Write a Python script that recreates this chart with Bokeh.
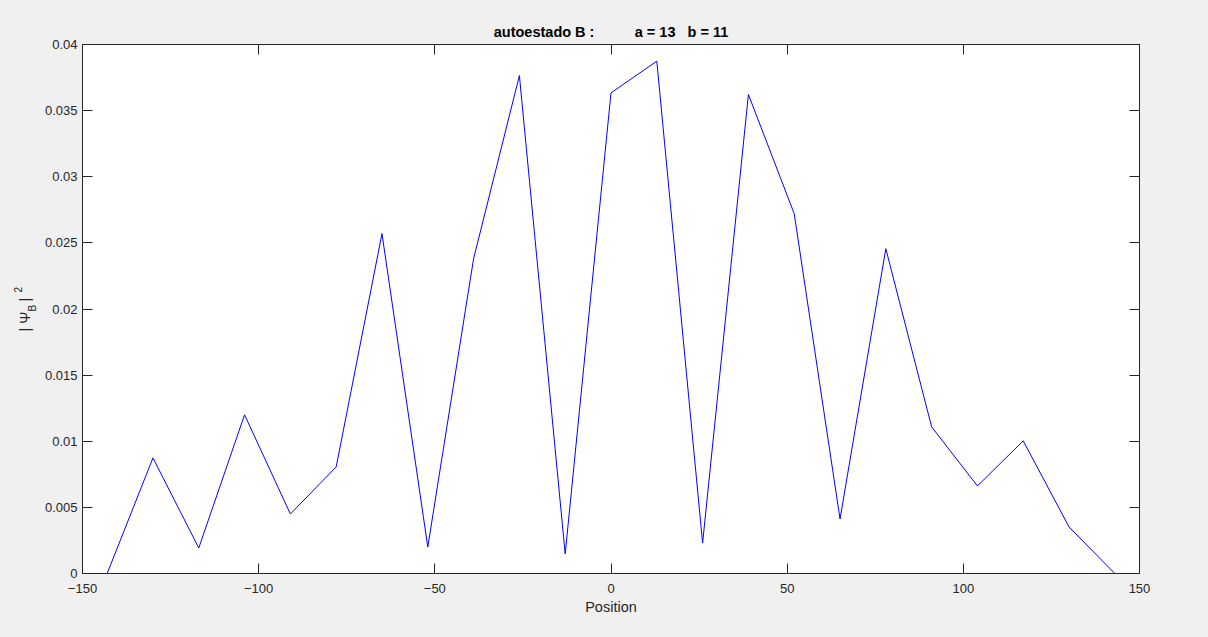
from bokeh.plotting import figure
from bokeh.layouts import row
from bokeh.models import Range1d, FixedTicker, LinearAxis, CustomJSTickFormatter, ColumnDataSource
from bokeh.core.properties import value
from bokeh.embed import file_html
from bokeh.resources import INLINE

# ---- data ----
positions = [-143, -130, -117, -104, -91, -78, -65, -52, -39, -26, -13, 0,
             13, 26, 39, 52, 65, 78, 91, 104, 117, 130, 143]
psi_sq = [0.0, 0.00874, 0.00193, 0.0120, 0.0045, 0.00806, 0.0257, 0.0020,
          0.0238, 0.03765, 0.00148, 0.03634, 0.03874, 0.0023, 0.03622,
          0.02721, 0.00412, 0.02456, 0.01109, 0.00662, 0.01003, 0.00352, 0.0]

x_ticks = [-150, -100, -50, 0, 50, 100, 150]
y_ticks = [0, 0.005, 0.01, 0.015, 0.02, 0.025, 0.03, 0.035, 0.04]
y_tick_labels = ["0", "0.005", "0.01", "0.015", "0.02", "0.025", "0.03", "0.035", "0.04"]

title_text = "autoestado B :\u00a0\u00a0\u00a0\u00a0\u00a0\u00a0\u00a0\u00a0\u00a0\u00a0a = 13\u00a0\u00a0\u00a0b = 11"

# y-axis label "| Ψ_B |^2" pieces
ylabel_parts = ["| \u03a8", "B", "|", "2"]

FONT = "Liberation Sans"
AX = "#262626"
BG = "#f0f0f0"

W, H = 1208, 637
LEFT_W = 40

# ---- main plot ----
p = figure(width=W - LEFT_W, height=H, output_backend="svg", toolbar_location=None,
           x_range=Range1d(-150, 150), y_range=Range1d(0, 0.04),
           frame_width=1057, frame_height=529,
           min_border_left=42, min_border_right=W - LEFT_W - 42 - 1057,
           min_border_top=44, min_border_bottom=H - 44 - 529,
           x_axis_label="Position")

p.background_fill_color = "white"
p.border_fill_color = BG
p.outline_line_color = AX
p.outline_line_width = 1
p.grid.visible = False

p.title.text = title_text
p.title.align = "center"
p.title.text_font = FONT
p.title.text_font_size = "14.5px"
p.title.text_font_style = "bold"
p.title.text_color = "black"
p.title.standoff = 9

p.line(positions, psi_sq, line_color="#0000ff", line_width=1)

ylab = {v: s for v, s in zip(y_ticks, y_tick_labels)}

for ax in p.xaxis:
    ax.ticker = FixedTicker(ticks=x_ticks)
for ax in p.yaxis:
    ax.ticker = FixedTicker(ticks=y_ticks)
    ax.major_label_overrides = ylab

for ax in list(p.xaxis) + list(p.yaxis):
    ax.major_tick_in = 10
    ax.major_tick_out = 0
    ax.minor_tick_in = 0
    ax.minor_tick_out = 0
    ax.axis_line_color = AX
    ax.major_tick_line_color = AX
    ax.major_label_text_font = FONT
    ax.major_label_text_font_size = "13px"
    ax.major_label_text_color = AX
for ax in p.xaxis:
    ax.major_label_standoff = 10
    ax.axis_label_text_font = FONT
    ax.axis_label_text_font_size = "14.5px"
    ax.axis_label_text_font_style = "normal"
    ax.axis_label_text_color = AX
    ax.axis_label_standoff = 3
for ax in p.yaxis:
    ax.major_label_standoff = 5

blank = CustomJSTickFormatter(code="return ''")
top = LinearAxis(ticker=FixedTicker(ticks=x_ticks), formatter=blank,
                 major_tick_in=10, major_tick_out=0, minor_tick_in=0, minor_tick_out=0,
                 axis_line_color=AX, major_tick_line_color=AX, major_label_standoff=0)
right = LinearAxis(ticker=FixedTicker(ticks=y_ticks), formatter=blank,
                   major_tick_in=10, major_tick_out=0, minor_tick_in=0, minor_tick_out=0,
                   axis_line_color=AX, major_tick_line_color=AX, major_label_standoff=0)
p.add_layout(top, "above")
p.add_layout(right, "right")

# ---- narrow side panel holding the rotated y-axis label ----
lab = figure(width=LEFT_W, height=H, output_backend="svg", toolbar_location=None,
             x_range=Range1d(0, LEFT_W), y_range=Range1d(0, H),
             min_border=0, frame_width=LEFT_W, frame_height=H)
lab.axis.visible = False
lab.grid.visible = False
lab.outline_line_color = None
lab.background_fill_color = BG
lab.border_fill_color = BG

# positions in panel pixels (y measured from the bottom)
src = ColumnDataSource(dict(
    text=ylabel_parts,
    x=[24, 32, 24, 17],
    y=[H - 287, H - 267, H - 257, H - 248],
    size=["14.5px", "10px", "14.5px", "10px"],
))
lab.text(x="x", y="y", text="text", source=src, angle=1.5707963267948966,
         text_font=value(FONT), text_font_size="size", text_color=AX,
         text_align="left", text_baseline="middle")

layout = row(lab, p, spacing=0)

html = file_html(layout, INLINE)
html = html.replace("</head>", "<style>html, body { background: %s !important; }</style></head>" % BG, 1)
open("out.html", "w").write(html)
